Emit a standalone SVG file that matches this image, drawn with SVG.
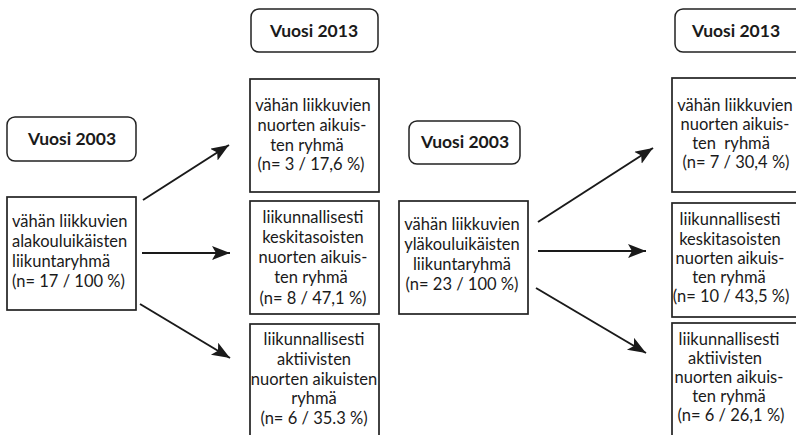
<svg xmlns="http://www.w3.org/2000/svg" width="796" height="435" viewBox="0 0 796 435">
<defs>
<style>
.box{fill:#fff;stroke:#222;stroke-width:1.7}
.hdr{fill:#fff;stroke:#222;stroke-width:1.5}
.t{font-family:Lato,"Liberation Sans",sans-serif;font-size:16.5px;fill:#1a1a1a;text-anchor:middle}
.tl{text-anchor:start}
.h{font-family:Lato,"Liberation Sans",sans-serif;font-size:17.5px;font-weight:bold;fill:#1a1a1a;text-anchor:middle}
.arr{stroke:#1a1a1a;stroke-width:2;fill:none;marker-end:url(#ah)}
</style>
<marker id="ah" markerUnits="userSpaceOnUse" markerWidth="20" markerHeight="16" refX="18" refY="7" orient="auto">
<path d="M0,0 L18,7 L0,14 L4,7 z" fill="#1a1a1a"/>
</marker>
</defs>

<g id="hdr-2003-a">
<rect class="hdr" x="7" y="117" width="129" height="44" rx="8"/>
<text class="h" x="72" y="145">Vuosi 2003</text>
</g>
<g id="hdr-2013-a">
<rect class="hdr" x="251" y="9" width="127" height="43" rx="8"/>
<text class="h" x="314" y="37">Vuosi 2013</text>
</g>
<g id="hdr-2003-b">
<rect class="hdr" x="409" y="121" width="111" height="43" rx="8"/>
<text class="h" x="465" y="148">Vuosi 2003</text>
</g>
<g id="hdr-2013-b">
<rect class="hdr" x="675" y="9" width="130" height="43" rx="8"/>
<text class="h" x="736" y="37">Vuosi 2013</text>
</g>

<g id="src-a">
<rect class="box" x="7" y="197" width="129" height="113"/>
<text class="t tl" x="12" y="227">vähän liikkuvien</text>
<text class="t tl" x="12" y="247">alakouluikäisten</text>
<text class="t tl" x="12" y="267">liikuntaryhmä</text>
<text class="t tl" x="12" y="287">(n= 17 / 100 %)</text>
</g>

<g id="a-low">
<rect class="box" x="250" y="79" width="129" height="113"/>
<text class="t" x="313" y="111">vähän liikkuvien</text>
<text class="t" x="312" y="131">nuorten aikuis-</text>
<text class="t" x="307" y="151">ten ryhmä</text>
<text class="t" x="311" y="170">(n= 3 / 17,6 %)</text>
</g>
<g id="a-mid">
<rect class="box" x="250" y="201" width="129" height="113"/>
<text class="t" x="313" y="223">liikunnallisesti</text>
<text class="t" x="313" y="243">keskitasoisten</text>
<text class="t" x="313" y="263">nuorten aikuis-</text>
<text class="t" x="311" y="283">ten ryhmä</text>
<text class="t" x="313" y="304">(n= 8 / 47,1 %)</text>
</g>
<g id="a-high">
<rect class="box" x="250" y="324" width="129" height="130"/>
<text class="t" x="314" y="345">liikunnallisesti</text>
<text class="t" x="314" y="365">aktiivisten</text>
<text class="t" x="314" y="385">nuorten aikuisten</text>
<text class="t" x="314" y="404">ryhmä</text>
<text class="t" x="314" y="424">(n= 6 / 35.3 %)</text>
</g>

<g id="src-b">
<rect class="box" x="399" y="201" width="129" height="113"/>
<text class="t" x="462" y="230">vähän liikkuvien</text>
<text class="t" x="462" y="250">yläkouluikäisten</text>
<text class="t" x="462" y="270">liikuntaryhmä</text>
<text class="t" x="462" y="290">(n= 23 / 100 %)</text>
</g>

<g id="b-low">
<rect class="box" x="672" y="78" width="130" height="114"/>
<text class="t" x="735" y="111">vähän liikkuvien</text>
<text class="t" x="735" y="130">nuorten aikuis-</text>
<text class="t" x="731" y="149" xml:space="preserve">ten  ryhmä</text>
<text class="t" x="736" y="168">(n= 7 / 30,4 %)</text>
</g>
<g id="b-mid">
<rect class="box" x="672" y="203" width="130" height="114"/>
<text class="t" x="730" y="225">liikunnallisesti</text>
<text class="t" x="730" y="245">keskitasoisten</text>
<text class="t" x="730" y="264">nuorten aikuis-</text>
<text class="t" x="729" y="283">ten ryhmä</text>
<text class="t" x="731" y="302">(n= 10 / 43,5 %)</text>
</g>
<g id="b-high">
<rect class="box" x="672" y="323" width="130" height="130"/>
<text class="t" x="729" y="345">liikunnallisesti</text>
<text class="t" x="725" y="364">aktiivisten</text>
<text class="t" x="729" y="383">nuorten aikuis-</text>
<text class="t" x="729" y="402">ten ryhmä</text>
<text class="t" x="731" y="421">(n= 6 / 26,1 %)</text>
</g>

<g id="connectors">
<line class="arr" x1="143" y1="200" x2="229" y2="145"/>
<line class="arr" x1="142" y1="253" x2="230" y2="253"/>
<line class="arr" x1="140" y1="304" x2="230" y2="358"/>
<line class="arr" x1="538" y1="222" x2="653" y2="148"/>
<line class="arr" x1="538" y1="251" x2="646" y2="251"/>
<line class="arr" x1="536" y1="288" x2="646" y2="353"/>
</g>
</svg>
